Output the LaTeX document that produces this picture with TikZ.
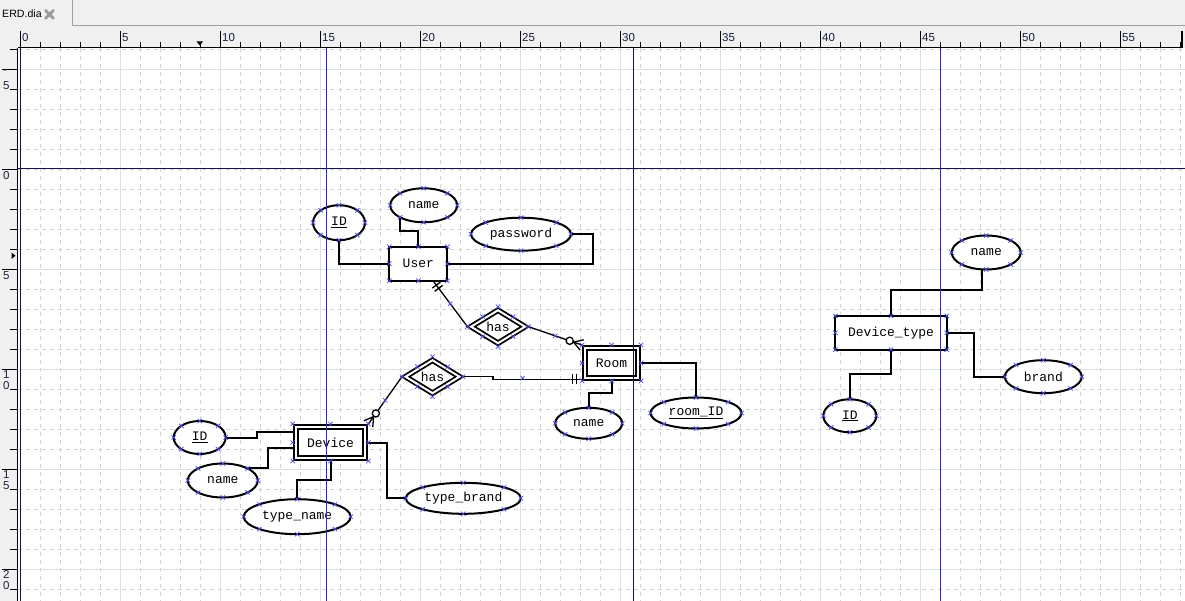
\documentclass[tikz,border=0pt]{standalone}
\usepackage{fontspec}
\usetikzlibrary{shapes.geometric,calc}
\newfontfamily\erfont{Liberation Mono}
\newfontfamily\uifont{Liberation Sans}
\definecolor{uibg}{HTML}{F0F0F0}
\definecolor{gridminor}{HTML}{D2D2D2}
\definecolor{gridmajor}{HTML}{DCE0E0}
\definecolor{pagebrk}{HTML}{14144A}
\definecolor{guideblue}{HTML}{2A2ACC}
\definecolor{cpblue}{HTML}{4A4AF0}
\definecolor{tabline}{HTML}{A0A0A0}
\definecolor{rulertxt}{HTML}{1A2040}
\definecolor{closegray}{HTML}{9A9A9A}
\tikzset{
  er/.style={font=\erfont\fontsize{13}{14}\selectfont, inner sep=0pt, text=black},
  entity/.style={er, rectangle, draw, line width=2pt, fill=white, outer sep=0pt},
  weakent/.style={er, rectangle, draw, line width=2pt, double, double distance=2pt, fill=white, outer sep=3pt},
  attr/.style={er, ellipse, draw, line width=2pt, fill=white, outer sep=0pt},
  rel/.style={er, diamond, draw, line width=1.8pt, double, double distance=2pt, fill=white, outer sep=2.5pt},
  attrline/.style={line width=2pt, black},
  relline/.style={line width=1.3pt, black},
  cpmark/.style={cpblue, line width=0.7pt},
  minorgrid/.style={gridminor, line width=0.8pt, dash pattern=on 4pt off 4pt},
  majorgrid/.style={gridmajor, line width=0.8pt},
  rulerlab/.style={font=\uifont\fontsize{11.5}{12}\selectfont, text=rulertxt, inner sep=0pt, anchor=north west},
}
\newcommand{\mandone}[2]{%
  \coordinate (mo1) at ($(#1)!5.5pt!(#2)$);
  \coordinate (mo2) at ($(#1)!9.5pt!(#2)$);
  \draw[relline] ($(mo1)!5pt!90:(#1)$) -- ($(mo1)!5pt!-90:(#1)$)
                 ($(mo2)!5pt!90:(#1)$) -- ($(mo2)!5pt!-90:(#1)$);
}
\newcommand{\zeromany}[2]{%
  \coordinate (zmC) at ($(#1)!9pt!(#2)$);
  \coordinate (zmO) at ($(#1)!13pt!(#2)$);
  \draw[relline] (zmC) -- ($(#1)!5.5pt!90:(#2)$) (zmC) -- ($(#1)!5.5pt!-90:(#2)$);
  \draw[relline, fill=white] (zmO) circle[radius=3.6pt];
}
\newcommand{\cpx}[1]{%
  \draw[cpmark] ([shift={(-2.2pt,-2.2pt)}]#1) -- ([shift={(2.2pt,2.2pt)}]#1)
                ([shift={(-2.2pt,2.2pt)}]#1) -- ([shift={(2.2pt,-2.2pt)}]#1);
}
\begin{document}
\begin{tikzpicture}[x=1pt,y=-1pt]
\useasboundingbox (0,0) rectangle (1185,601);
% backgrounds
\fill[white] (0,0) rectangle (1185,601);
\fill[uibg] (0,0) rectangle (1185,48);
\fill[uibg] (0,48) rectangle (18,601);
% grid
\foreach \x in {40,60,...,1180} \draw[minorgrid] (\x,48) -- (\x,601);
\foreach \y in {49,69,...,589} \draw[minorgrid] (18,\y) -- (1185,\y);
\foreach \x in {120,220,...,1120} \draw[majorgrid] (\x,48) -- (\x,601);
\foreach \y in {69,269,369,469,569} \draw[majorgrid] (18,\y) -- (1185,\y);

% ---------- ERD nodes ----------
\node[entity, minimum width=58pt, minimum height=34pt] (User) at (418.3,263.7) {User};
\node[attr, minimum width=52pt, minimum height=35pt] (uid) at (339,222.7) {\underline{ID}};
\node[attr, minimum width=67pt, minimum height=34pt] (uname) at (423.7,205.3) {name};
\node[attr, minimum width=100pt, minimum height=33pt] (upass) at (521,234.2) {password};

\node[rel, minimum width=56pt, minimum height=35pt] (has1) at (498,326.7) {has};
\node[rel, minimum width=56pt, minimum height=35pt] (has2) at (432.5,376.7) {has};

\node[weakent, minimum width=53pt, minimum height=30pt] (Room) at (611.5,363) {Room};
\node[attr, minimum width=67pt, minimum height=31pt] (rname) at (588.7,423.3) {name};
\node[attr, minimum width=91pt, minimum height=31pt] (rid) at (696,413) {\underline{room\_ID}};

\node[weakent, minimum width=69.6pt, minimum height=31pt] (Device) at (330.5,442.5) {Device};
\node[attr, minimum width=52pt, minimum height=33pt] (did) at (199.7,437.5) {\underline{ID}};
\node[attr, minimum width=70pt, minimum height=34pt] (dname) at (222.8,480.5) {name};
\node[attr, minimum width=107pt, minimum height=35pt] (dtname) at (297.2,516.7) {type\_name};
\node[attr, minimum width=115pt, minimum height=31pt] (dtbrand) at (463.3,498.3) {type\_brand};

\node[entity, minimum width=111.4pt, minimum height=33.7pt] (DT) at (891,332.8) {Device\_type};
\node[attr, minimum width=69pt, minimum height=34pt] (tname) at (986.2,252.5) {name};
\node[attr, minimum width=77pt, minimum height=33pt] (tbrand) at (1043.3,376.7) {brand};
\node[attr, minimum width=53pt, minimum height=33pt] (tid) at (849.8,415.8) {\underline{ID}};

% ---------- attribute connectors ----------
\draw[attrline] (uid.south) |- (User.west);
\draw[attrline] (uname.south west) -- ++(0,13.5) -| (User.north);
\draw[attrline] (upass.east) -- ++(21.6,0) |- (User.east);

\draw[attrline] (did.east) -- ++(31,0) |- ([yshift=10.2pt]Device.west);
\draw[attrline] (dname.north east) -- ++(20.7,0) |- ([yshift=-5.2pt]Device.west);
\draw[attrline] (dtname.north) -- ++(0,-19.3) -| (Device.south);
\draw[attrline] (Device.east) -- ++(18.4,0) |- (dtbrand.west);

\draw[attrline] (Room.south) -- ++(0,12.3) -| (rname.north);
\draw[attrline] (Room.east) -| (rid.north);

\draw[attrline] ([xshift=-4pt]tname.south) -- ++(0,20.3) -| (DT.north);
\draw[attrline] (DT.east) -- ++(27.3,0) |- (tbrand.west);
\draw[attrline] (DT.south) -- ++(0,24.3) -| (tid.north);

% ---------- relationship connectors ----------
\coordinate (uA) at ([xshift=14.7pt]User.south);
\coordinate (rB) at ([yshift=-16.3pt]Room.west);
\coordinate (rBs) at ([xshift=-40pt]rB);
\draw[relline] (uA) -- (has1.west);
\draw[relline] (has1.east) -- (Room.north west);
\draw[relline] (has2.east) -- ++(30,0) -- ++(0,2.6) -- (rB);
\draw[relline] (has2.west) -- (Device.north east);
\mandone{uA}{has1.west}
\mandone{rB}{rBs}
\zeromany{Room.north west}{has1.east}
\zeromany{Device.north east}{has2.west}

% ---------- connection point marks ----------
\foreach \n in {uid,uname,upass,did,dname,dtname,dtbrand,rname,rid,tname,tbrand,tid,User,DT,Room,Device,has1,has2}
  \foreach \a in {north,north east,east,south east,south,south west,west,north west}
    {\cpx{\n.\a}}
\cpx{$(uA)!.5!(has1.west)$}
\cpx{$(has1.east)!.5!(Room.north west)$}
\cpx{$(has2.east)!.5!(rB)$}
\cpx{$(has2.west)!.5!(Device.north east)$}

% ---------- page breaks and guides ----------
\draw[pagebrk, line width=1pt] (20,48) -- (20,601);
\draw[pagebrk, line width=1pt] (633,48) -- (633,601);
\draw[pagebrk, line width=1pt] (18,169) -- (1185,169);
\draw[guideblue, line width=1pt] (326,48) -- (326,601);
\draw[guideblue, line width=1pt] (940,48) -- (940,601);

% ---------- tab bar ----------
\draw[tabline, line width=1pt] (72,0) -- (72,26) -- (1185,26);
\node[anchor=west, font=\uifont\fontsize{10.6}{12}\selectfont, inner sep=0pt, text=black] (tab) at (2,14) {ERD.dia};
\draw[closegray, line width=2.8pt, line cap=round] (45.5,10.3) -- (53.5,18.3) (53.5,10.3) -- (45.5,18.3);

% ---------- horizontal ruler ----------
\draw[black, line width=1.5pt] (18,47.3) -- (1183,47.3);
\foreach \i in {0,...,58} \draw[black, line width=0.9pt] ({20.5+20*\i},42.5) -- ({20.5+20*\i},47);
\foreach \xx/\lab in {20/0,120/5,220/10,320/15,420/20,520/25,620/30,720/35,820/40,920/45,1020/50,1120/55}{
  \draw[black, line width=0.9pt] (\xx+0.5,31) -- (\xx+0.5,47);
  \node[rulerlab] at (\xx+2,33.5) {\lab};
}
\draw[black, line width=1.2pt] (1182,31) -- (1182,47);
\fill[black] (196.5,41.5) -- (203,41.5) -- (199.75,45.5) -- cycle;

% ---------- vertical ruler ----------
\draw[black, line width=1.5pt] (17.3,48) -- (17.3,601);
\foreach \j in {0,...,27} \draw[black, line width=0.9pt] (10,{49+20*\j}) -- (17,{49+20*\j});
\foreach \yy in {69,169,269,369,469,569} \draw[black, line width=0.9pt] (1.5,\yy) -- (17,\yy);
\node[rulerlab] at (3,70) {-};
\node[rulerlab] at (3,81) {5};
\node[rulerlab] at (3,171) {0};
\node[rulerlab] at (3,271) {5};
\node[rulerlab] at (3,370) {1};
\node[rulerlab] at (3,381) {0};
\node[rulerlab] at (3,470) {1};
\node[rulerlab] at (3,481) {5};
\node[rulerlab] at (3,570) {2};
\node[rulerlab] at (3,581) {0};
\fill[black] (11.5,252.5) -- (11.5,259) -- (15.5,255.75) -- cycle;
\end{tikzpicture}
\end{document}
